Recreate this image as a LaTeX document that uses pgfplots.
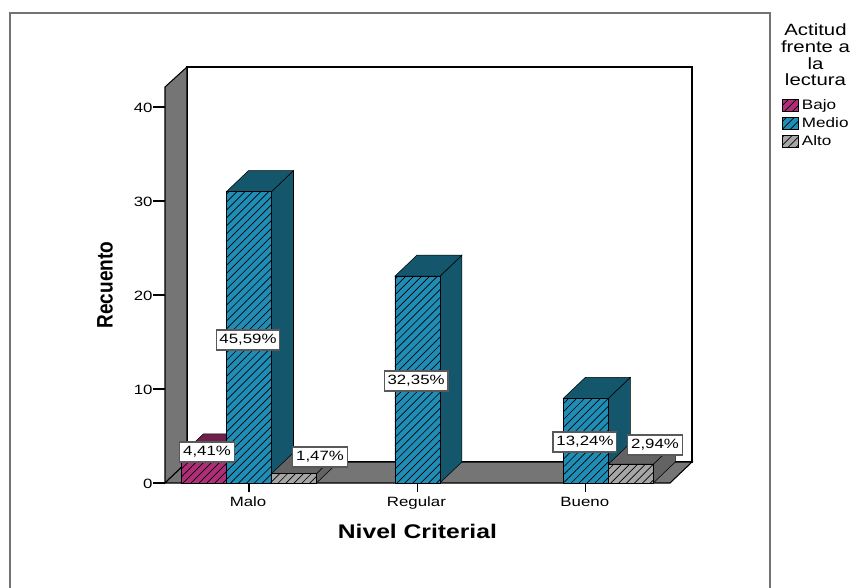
\documentclass[border=0pt]{standalone}
\usepackage{pgfplots}
\pgfplotsset{compat=1.18}
\usepackage{fontspec}
\setmainfont[FakeStretch=1.25]{Liberation Sans}
\newfontfamily\plainfont[FakeStretch=0.85]{Liberation Sans}
\usetikzlibrary{patterns.meta}

\definecolor{bajo}{HTML}{AE2F78}
\definecolor{bajotop}{HTML}{6E1F4A}
\definecolor{medio}{HTML}{1F8DB5}
\definecolor{mediotop}{HTML}{14566B}
\definecolor{alto}{HTML}{A6A6A6}
\definecolor{altotop}{HTML}{636363}
\definecolor{wall}{HTML}{757575}

% bar depth in axis units: 22 px across, 21 px up
\def\dx{0.1306}
\def\dy{2.234}
% side and top of one bar: left edge, right edge, value, colour
\newcommand{\barbox}[4]{%
  \pgfmathsetmacro{\xa}{#1+\dx}
  \pgfmathsetmacro{\xb}{#2+\dx}
  \pgfmathsetmacro{\yb}{#3+\dy}
  \addplot[draw=black, fill=#4, forget plot] coordinates {(#2,0) (\xb,\dy) (\xb,\yb) (#2,#3)} --cycle;
  \addplot[draw=black, fill=#4, forget plot] coordinates {(#1,#3) (\xa,\yb) (\xb,\yb) (#2,#3)} --cycle;
}
\tikzset{
  hatch/.style={postaction={pattern={Lines[angle=45,distance=4.2pt,line width=0.5pt]},pattern color=black}},
  pct/.style={draw=black!65, fill=white, line width=0.9pt, inner xsep=2.5pt, inner ysep=0pt,
    minimum height=15pt, yshift=-0.75pt, font=\fontsize{10.1}{12}\selectfont},
}

\begin{document}
\begin{tikzpicture}[x=0.75pt,y=0.75pt]
\path[use as bounding box] (0,0) rectangle (853,587);
\draw[black!55, line width=1.1pt] (10,-2) -- (10,574) -- (770,574) -- (770,-2);

\begin{axis}[
  at={(123.75pt,78pt)}, anchor=south west,
  scale only axis, width=395.25pt, height=312pt,
  xmin=-0.4988, xmax=2.6306, ymin=0, ymax=44.255,
  clip=false,
  axis line style={draw=none},
  tick align=outside,
  xtick={0,1,2}, xticklabels={Malo,Regular,Bueno},
  ytick={0,10,20,30,40},
  x tick style={black, line width=0.8pt, /pgfplots/major tick length=7pt},
  y tick style={black, line width=0.8pt, /pgfplots/major tick length=9pt},
  xtick pos=bottom, ytick pos=left,
  /pgf/number format/assume math mode=true,
  tick label style={font=\fontsize{10.1}{12}\selectfont},
  xticklabel style={yshift=-2.5pt, xshift=-0.75pt},
  yticklabel style={xshift=-1.5pt, yshift=-0.75pt},
  xlabel={\textbf{Nivel Criterial}},
  ylabel={\plainfont\bfseries Recuento},
  every axis x label/.style={at={(axis cs:1,-5.2)}, anchor=center, font=\fontsize{14.8}{16}\selectfont},
  every axis y label/.style={at={(axis cs:-0.855,21.06)}, anchor=center, rotate=90, font=\fontsize{16.8}{18}\selectfont},
  legend style={at={(1.171,0.929)}, anchor=north west, draw=none, fill=none,
    font=\fontsize{10.25}{12}\selectfont, row sep=0.5pt, inner sep=0pt},
  legend cell align=left,
  legend image code/.code={\draw[#1, line width=0.7pt] (0pt,-4.5pt) rectangle (12pt,4.5pt);},
]

% walls and floor
\addplot[draw=black, line width=0.8pt, fill=white, forget plot] coordinates {(-0.3682,2.234) (2.6306,2.234) (2.6306,44.255) (-0.3682,44.255)} --cycle;
\addplot[draw=black, line width=0.8pt, fill=wall, forget plot] coordinates {(-0.4988,0) (-0.3682,2.234) (-0.3682,44.255) (-0.4988,42.13)} --cycle;
\addplot[draw=black, line width=0.8pt, fill=wall, forget plot] coordinates {(-0.4988,0) (2.4999,0) (2.6306,2.234) (-0.3682,2.234)} --cycle;

% Bajo
\barbox{-0.4008}{-0.1336}{3}{bajotop}
\addplot[ybar, bar width=33.75pt, bar shift=-33.75pt, draw=black, fill=bajo, hatch] coordinates {(0,3)};
\addlegendentry{Bajo}

% Medio
\barbox{-0.1336}{0.1336}{31}{mediotop}
\barbox{0.8664}{1.1336}{22}{mediotop}
\barbox{1.8664}{2.1336}{9}{mediotop}
\addplot[ybar, bar width=33.75pt, bar shift=0pt, draw=black, fill=medio, hatch] coordinates {(0,31) (1,22) (2,9)};
\addlegendentry{Medio}

% Alto
\barbox{0.1336}{0.4008}{1}{altotop}
\barbox{2.1336}{2.4008}{2}{altotop}
\addplot[ybar, bar width=33.75pt, bar shift=33.75pt, draw=black, fill=alto, hatch] coordinates {(0,1) (2,2)};
\addlegendentry{Alto}

\node[pct] at (axis cs:-0.249,3.40) {4,41\%};
\node[pct] at (axis cs:-0.006,15.32) {45,59\%};
\node[pct] at (axis cs:0.422,2.87) {1,47\%};
\node[pct] at (axis cs:0.992,10.96) {32,35\%};
\node[pct] at (axis cs:1.995,4.47) {13,24\%};
\node[pct] at (axis cs:2.411,4.15) {2,94\%};
\end{axis}

\node[align=center, inner sep=0pt, font=\fontsize{12.2}{12.5}\selectfont] at (815.5,532) {Actitud\\frente a\\la\\lectura};
\end{tikzpicture}
\end{document}
